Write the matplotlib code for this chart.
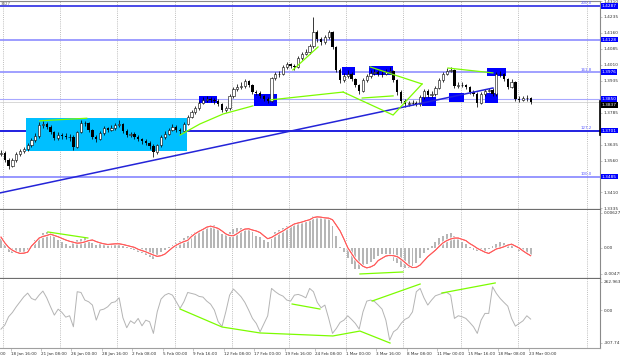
import numpy as np
import matplotlib
matplotlib.use("Agg")
import matplotlib.pyplot as plt
from matplotlib.patches import Rectangle
from matplotlib.transforms import blended_transform_factory
import matplotlib.patheffects as pe

# ---------------- data ----------------
first_open = 1.3590
closes = [1.3596,1.3563,1.3535,1.3563,1.3591,1.3605,1.3614,1.3633,1.3657,1.3676,
1.3727,1.3732,1.3718,1.3694,1.3666,1.3680,1.3676,1.3671,1.3671,1.3624,
1.3694,1.3737,1.3737,1.3704,1.3671,1.3661,1.3690,1.3713,1.3704,1.3713,
1.3727,1.3732,1.3699,1.3680,1.3685,1.3671,1.3661,1.3652,1.3643,1.3629,
1.3600,1.3633,1.3671,1.3685,1.3704,1.3718,1.3704,1.3699,1.3732,1.3765,
1.3788,1.3807,1.3831,1.3845,1.3850,1.3845,1.3840,1.3826,1.3798,1.3807,
1.3864,1.3896,1.3906,1.3910,1.3934,1.3915,1.3882,1.3878,1.3864,1.3850,
1.3840,1.3948,1.3967,1.3967,1.4000,1.4014,1.4005,1.4000,1.4042,1.4061,
1.4070,1.4098,1.4164,1.4131,1.4117,1.4141,1.4164,1.4094,1.3986,1.3939,
1.3958,1.3967,1.3943,1.3915,1.3887,1.3939,1.3958,1.3972,1.3976,1.3967,
1.3967,1.3976,1.3981,1.3939,1.3882,1.3840,1.3826,1.3831,1.3831,1.3826,
1.3859,1.3887,1.3868,1.3873,1.3901,1.3939,1.3967,1.3981,1.3986,1.3910,
1.3915,1.3915,1.3906,1.3882,1.3873,1.3831,1.3873,1.3887,1.3892,1.3873,
1.3967,1.3967,1.3943,1.3906,1.3929,1.3850,1.3845,1.3854,1.3854,1.3837]
highs = [1.3610,1.3605,1.3572,1.3570,1.3600,1.3615,1.3625,1.3642,1.3668,1.3690,
1.3740,1.3748,1.3742,1.3725,1.3700,1.3692,1.3690,1.3688,1.3684,1.3678,
1.3700,1.3750,1.3748,1.3742,1.3710,1.3680,1.3698,1.3722,1.3720,1.3725,
1.3738,1.3752,1.3738,1.3708,1.3695,1.3692,1.3680,1.3668,1.3660,1.3650,
1.3636,1.3640,1.3680,1.3698,1.3715,1.3730,1.3725,1.3712,1.3740,1.3775,
1.3798,1.3818,1.3842,1.3858,1.3862,1.3858,1.3852,1.3848,1.3832,1.3815,
1.3872,1.3905,1.3918,1.3928,1.3945,1.3940,1.3920,1.3892,1.3885,1.3870,
1.3858,1.3955,1.3978,1.3980,1.4010,1.4025,1.4020,1.4012,1.4052,1.4072,
1.4085,1.4110,1.4236,1.4175,1.4140,1.4152,1.4172,1.4170,1.4100,1.3995,
1.3970,1.3985,1.3975,1.3950,1.3922,1.3948,1.3968,1.3985,1.3990,1.3985,
1.3980,1.3990,1.3998,1.3988,1.3945,1.3890,1.3850,1.3842,1.3845,1.3840,
1.3868,1.3898,1.3895,1.3885,1.3912,1.3950,1.3978,1.3995,1.4000,1.3992,
1.3928,1.3930,1.3922,1.3912,1.3890,1.3880,1.3882,1.3896,1.3902,1.3900,
1.3975,1.3982,1.3972,1.3950,1.3945,1.3935,1.3862,1.3865,1.3866,1.3860]
lows = [1.3580,1.3555,1.3522,1.3528,1.3555,1.3582,1.3595,1.3606,1.3625,1.3645,
1.3668,1.3715,1.3708,1.3685,1.3655,1.3658,1.3662,1.3660,1.3650,1.3608,
1.3618,1.3688,1.3722,1.3695,1.3660,1.3645,1.3655,1.3682,1.3695,1.3698,
1.3706,1.3718,1.3690,1.3670,1.3672,1.3662,1.3650,1.3640,1.3632,1.3615,
1.3577,1.3592,1.3625,1.3662,1.3678,1.3698,1.3695,1.3685,1.3692,1.3725,
1.3758,1.3780,1.3800,1.3825,1.3836,1.3835,1.3828,1.3815,1.3788,1.3790,
1.3800,1.3856,1.3888,1.3898,1.3902,1.3905,1.3872,1.3868,1.3855,1.3838,
1.3830,1.3835,1.3940,1.3955,1.3960,1.3992,1.3995,1.3985,1.3995,1.4035,
1.4055,1.4062,1.4090,1.4115,1.4105,1.4110,1.4132,1.4085,1.3975,1.3925,
1.3930,1.3950,1.3935,1.3905,1.3875,1.3880,1.3930,1.3950,1.3962,1.3958,
1.3955,1.3960,1.3968,1.3930,1.3870,1.3830,1.3812,1.3818,1.3820,1.3815,
1.3818,1.3850,1.3858,1.3860,1.3865,1.3895,1.3930,1.3960,1.3975,1.3900,
1.3902,1.3905,1.3895,1.3872,1.3862,1.3812,1.3825,1.3865,1.3880,1.3862,
1.3865,1.3955,1.3935,1.3895,1.3900,1.3840,1.3835,1.3840,1.3842,1.3828]

macd_main = [0.00168,0.00041,-0.00075,-0.00104,-0.00104,-0.00104,-0.00081,-0.00046,0.00041,0.00139,
0.00197,0.00267,0.00284,0.00290,0.00215,0.00139,0.00099,0.00070,0.00023,0.00081,
0.00139,0.00162,0.00168,0.00139,0.00093,0.00046,0.00070,0.00075,0.00081,0.00070,
0.00064,0.00046,0.00029,0.00012,-0.00023,-0.00046,-0.00081,-0.00104,-0.00128,-0.00162,
-0.00197,-0.00133,-0.00075,-0.00035,0.00006,0.00041,0.00087,0.00128,0.00174,0.00215,
0.00255,0.00284,0.00313,0.00336,0.00360,0.00400,0.00406,0.00331,0.00255,0.00226,
0.00284,0.00331,0.00348,0.00360,0.00354,0.00325,0.00278,0.00220,0.00186,0.00139,
0.00104,0.00186,0.00284,0.00325,0.00360,0.00389,0.00406,0.00429,0.00458,0.00470,
0.00481,0.00505,0.00574,0.00563,0.00545,0.00534,0.00522,0.00389,0.00215,0.00012,
-0.00075,-0.00180,-0.00296,-0.00377,-0.00389,-0.00336,-0.00296,-0.00267,-0.00203,-0.00151,
-0.00110,-0.00110,-0.00168,-0.00232,-0.00284,-0.00342,-0.00365,-0.00360,-0.00331,-0.00284,
-0.00191,-0.00093,-0.00046,0.00029,0.00104,0.00174,0.00215,0.00244,0.00267,0.00209,
0.00162,0.00104,0.00058,0.00006,-0.00035,-0.00058,-0.00064,-0.00052,-0.00023,0.00035,
0.00075,0.00099,0.00093,0.00075,0.00041,-0.00012,-0.00052,-0.00087,-0.00104,-0.00133]
macd_signal = [0.00191,0.00087,0.00006,-0.00046,-0.00081,-0.00104,-0.00099,-0.00081,0.00029,0.00099,
0.00174,0.00203,0.00220,0.00244,0.00220,0.00197,0.00168,0.00139,0.00116,0.00099,
0.00081,0.00087,0.00104,0.00128,0.00139,0.00110,0.00087,0.00070,0.00058,0.00064,
0.00070,0.00070,0.00058,0.00041,0.00023,0.00006,-0.00029,-0.00052,-0.00075,-0.00104,
-0.00133,-0.00157,-0.00145,-0.00116,-0.00058,0.00000,0.00046,0.00081,0.00110,0.00133,
0.00203,0.00255,0.00296,0.00331,0.00371,0.00389,0.00371,0.00348,0.00302,0.00249,
0.00220,0.00215,0.00255,0.00302,0.00336,0.00342,0.00319,0.00302,0.00273,0.00215,
0.00162,0.00186,0.00226,0.00267,0.00302,0.00348,0.00389,0.00429,0.00447,0.00464,
0.00487,0.00505,0.00545,0.00557,0.00551,0.00539,0.00534,0.00505,0.00406,0.00302,
0.00157,0.00000,-0.00104,-0.00209,-0.00278,-0.00336,-0.00365,-0.00348,-0.00313,-0.00232,
-0.00191,-0.00151,-0.00139,-0.00145,-0.00162,-0.00209,-0.00267,-0.00325,-0.00360,-0.00354,
-0.00313,-0.00238,-0.00162,-0.00104,-0.00046,0.00023,0.00087,0.00128,0.00157,0.00174,
0.00174,0.00151,0.00128,0.00075,0.00035,-0.00012,-0.00046,-0.00081,-0.00104,-0.00064,
-0.00023,-0.00006,0.00017,0.00046,0.00064,0.00029,-0.00006,-0.00058,-0.00104,-0.00145]
cci = [-178,-140,-62,-22,31,78,125,159,109,94,
140,178,115,31,-47,9,-22,-66,-53,-156,
172,165,94,78,47,-94,0,9,31,69,
78,115,-72,-165,-100,-125,-78,-147,-94,-109,
-218,-16,103,140,156,140,78,16,78,165,
156,147,128,122,84,56,0,-109,-153,-16,
140,197,162,125,72,0,-78,-125,-203,-128,
-53,203,172,147,131,94,84,140,147,134,
115,203,172,72,22,47,-78,-218,-172,-115,
-94,-53,-87,-125,-178,-16,84,94,81,47,
9,-94,-281,-203,-178,-125,-87,-69,-16,172,
203,115,47,94,134,147,159,165,140,-78,
-53,-62,-78,-115,-156,-218,-94,-31,-31,218,
156,109,72,37,-78,-150,-125,-100,-53,-84]

# time axis (bar index of 8h bars)
date_labels = ["18 Jan 16:00","21 Jan 08:00","26 Jan 00:00","28 Jan 16:00","2 Feb 08:00",
               "5 Feb 00:00","9 Feb 16:00","12 Feb 08:00","17 Feb 00:00","19 Feb 16:00",
               "24 Feb 08:00","1 Mar 00:00","3 Mar 16:00","8 Mar 08:00","11 Mar 00:00",
               "15 Mar 16:00","18 Mar 08:00","23 Mar 00:00"]
date_pos = [2.5,10.5,18.5,26.5,34.5,42.5,50.5,58.5,66.5,74.5,82.5,90.5,98.5,106.5,114.5,122.5,130.5,138.5]
cut_label, cut_pos = "14 Jan 16:00", -5.5
week_sep = [0.5,15.5,30.4,45.7,60.6,75.6,90.6,105.5,120.7,135.7,153.8]

price_ticks = [1.4310,1.4235,1.4160,1.4085,1.4010,1.3935,1.3860,1.3785,1.3710,1.3635,1.3560,1.3485,1.3410,1.3335]
hidden_ticks = [1.3860,1.3710,1.3485]   # covered by the level boxes
levels = [1.4287,1.4128,1.3976,1.3850,1.3701,1.3485]
level_labels = ["1.4287","1.4128","1.3976","1.3850","1.3701","1.3485"]
fib_text = {1.4287:"200.0",1.3976:"161.8",1.3701:"127.2",1.3485:"100.0"}
current_price = 1.3837

cyan_box = (6.5,48.9,1.3605,1.3761)
blue_boxes = [(52.0,56.7,1.3831,1.3864),(66.4,72.4,1.3817,1.3873),(89.5,92.9,1.3962,1.4000),
              (96.6,102.9,1.3962,1.4005),(110.5,114.2,1.3817,1.3859),(117.6,121.5,1.3835,1.3878),
              (127.0,130.4,1.3831,1.3878),(127.6,132.5,1.3958,1.3995)]
trend_line = [(-0.26,1.3408),(129.1,1.3901)]
green_price = [
    [(10.2,1.3747),(22.5,1.3759)],
    [(47.0,1.3680),(52.2,1.3732),(58.3,1.3779),(66.1,1.3817)],
    [(70.6,1.3845),(89.8,1.3882)],
    [(76.6,1.3986),(83.2,1.4094)],
    [(89.8,1.3882),(102.9,1.3774),(110.5,1.3920)],
    [(94.8,1.3854),(102.9,1.3864)],
    [(96.9,1.4000),(110.5,1.3920)],
    [(117.3,1.3995),(129.1,1.3972)],
]
green_macd = [[(12.3,0.00284),(22.8,0.00175)],[(94.2,-0.00475),(105.5,-0.00439)]]
green_cci = [[(47.0,10),(58.0,-158),(68.0,-214),(87.1,-242),(94.2,-196),(102.1,-308)],
             [(76.4,57),(83.7,10)],[(97.4,85),(110.0,244)],[(115.7,160),(129.7,254)]]
macd_ticks = [0.00627,0.0,-0.00475]
macd_tick_labels = ["0.00627","0.00","-0.00475"]
cci_ticks = [262.9636,0.0,-307.7431]
cci_tick_labels = ["262.9636","0.00","-307.7431"]

# ---------------- figure ----------------
W, H = 620, 357
fig = plt.figure(figsize=(W/100, H/100), dpi=100)
fig.patch.set_facecolor("white")

def rect(top, bottom):
    return [0, 1 - bottom/H, 600/W, (bottom - top)/H]

ax = fig.add_axes(rect(1, 210))
am = fig.add_axes(rect(210, 279), sharex=ax)
ac = fig.add_axes(rect(279, 348), sharex=ax)

FS = 3.1
FSD = 2.95
GRAY = "#8a8a8a"
for a in (ax, am, ac):
    a.set_facecolor("white")
    a.spines["left"].set_visible(False)
    a.spines["right"].set_color(GRAY)
    a.spines["right"].set_linewidth(0.8)
    a.spines["top"].set_visible(False)
    a.spines["bottom"].set_color("#6e6e6e")
    a.spines["bottom"].set_linewidth(1.6)
    a.yaxis.tick_right()
    a.tick_params(axis="y", length=1.5, width=0.4, pad=1.0, labelsize=FS,
                  colors="#9a9a9a", labelcolor="#303030")
    for s in week_sep:
        a.axvline(s, color="#a8a8a8", lw=0.55, ls=(0, (1.2, 1.6)), zorder=0.5)
ax.spines["top"].set_visible(True)
ax.spines["top"].set_color(GRAY)
ax.spines["top"].set_linewidth(0.8)
ac.spines["bottom"].set_linewidth(0.8)
ac.spines["bottom"].set_color("#a0a0a0")

ax.set_xlim(-0.26, 157.2)
ax.set_ylim(1.33277, 1.4310)
am.set_ylim(-0.00566, 0.00681)
ac.set_ylim(-354.6, 291.0)

# ---- main panel ----
k = np.arange(len(closes))
c = np.array(closes)
o = np.array([first_open] + closes[:-1])
hi = np.maximum(np.array(highs), np.maximum(o, c))
lo = np.minimum(np.array(lows), np.minimum(o, c))

ax.add_patch(Rectangle((cyan_box[0], cyan_box[2]), cyan_box[1]-cyan_box[0], cyan_box[3]-cyan_box[2],
                       fc="#00bfff", ec="none", zorder=1.5))
for x0, x1, y0, y1 in blue_boxes:
    ax.add_patch(Rectangle((x0, y0), x1-x0, y1-y0, fc="#0000ff", ec="none", zorder=2))

level_colors = ["#4a4ae8", "#8c8cff", "#9090ff", "#a8a8ff", "#2020e0", "#7a7aff"]
level_lw = [1.4, 1.2, 1.2, 0.8, 1.4, 1.1]
for lv, col, lw in zip(levels, level_colors, level_lw):
    ax.axhline(lv, color=col, lw=lw, zorder=1)
ax.axhline(current_price, color="#c8c8c8", lw=0.5, zorder=1)

ax.vlines(k, lo, hi, color="black", lw=0.55, zorder=4)
up = c >= o
body = np.maximum(np.abs(c - o), 0.00008)
ax.bar(k[up], body[up], bottom=o[up], width=0.6, facecolor="white", edgecolor="black",
       linewidth=0.4, zorder=5)
ax.bar(k[~up], body[~up], bottom=c[~up], width=0.6, color="black", linewidth=0, zorder=5)

ax.plot([p[0] for p in trend_line], [p[1] for p in trend_line], color="#2424d8", lw=1.1, zorder=6)
for seg in green_price:
    ax.plot([p[0] for p in seg], [p[1] for p in seg], color="#7cfc00", lw=0.9, zorder=6)

ax.set_yticks(price_ticks)
ax.set_yticklabels(["" if v in hidden_ticks else f"{v:.4f}" for v in price_ticks])
ax.tick_params(axis="x", bottom=False, labelbottom=False)

tr = blended_transform_factory(ax.transAxes, ax.transData)
for lv, txt in zip(levels, level_labels):
    ax.text(1.003, lv, txt, transform=tr, ha="left", va="center", fontsize=FS, color="white",
            bbox=dict(boxstyle="square,pad=0.18", fc="#0000ff", ec="none"), clip_on=False, zorder=10)
ax.text(1.003, 1.3822, f"{current_price:.4f}", transform=tr, ha="left", va="center",
        fontsize=FS, color="white", bbox=dict(boxstyle="square,pad=0.18", fc="black", ec="none"),
        clip_on=False, zorder=11)
ax.plot([1.0, 1.0], [1.3842, 1.3680], transform=tr, color="black", lw=1.2, clip_on=False, zorder=12)
for lv, txt in fib_text.items():
    ax.text(155.0, lv + 0.0002, txt, ha="right", va="bottom", fontsize=2.9, color="#5a5aff", zorder=7)
ax.text(0.001, 0.997, "3827", transform=ax.transAxes, ha="left", va="top", fontsize=2.8,
        color="#606060", zorder=10)

# ---- MACD panel ----
am.bar(k, macd_main, width=0.5, color="#b6b6b6", linewidth=0, zorder=2)
am.plot(k, macd_signal, color="#ff5a5a", lw=0.7, zorder=3,
        path_effects=[pe.withStroke(linewidth=2.0, foreground="white"), pe.Normal()])
for seg in green_macd:
    am.plot([p[0] for p in seg], [p[1] for p in seg], color="#7cfc00", lw=0.9, zorder=6)
am.set_yticks(macd_ticks)
am.set_yticklabels(macd_tick_labels)
am.tick_params(axis="x", bottom=False, labelbottom=False)

# ---- CCI panel ----
ac.plot(k, cci, color="#b4b4b4", lw=0.7, zorder=3)
for seg in green_cci:
    ac.plot([p[0] for p in seg], [p[1] for p in seg], color="#7cfc00", lw=0.9, zorder=6)
ac.set_yticks(cci_ticks)
ac.set_yticklabels(cci_tick_labels)

ac.set_xticks(date_pos)
ac.set_xticklabels(date_labels)
ac.tick_params(axis="x", length=2, width=0.4, pad=0.8, labelsize=FSD, colors="#9a9a9a",
               labelcolor="#303030", direction="out")
for t in ac.get_xticklabels():
    t.set_horizontalalignment("left")
trc = blended_transform_factory(ac.transData, ac.transAxes)
ac.text(cut_pos, -0.055, cut_label, transform=trc, ha="left", va="top", fontsize=FSD,
        color="#303030", clip_on=False)

fig.savefig("out.png", dpi=100)
